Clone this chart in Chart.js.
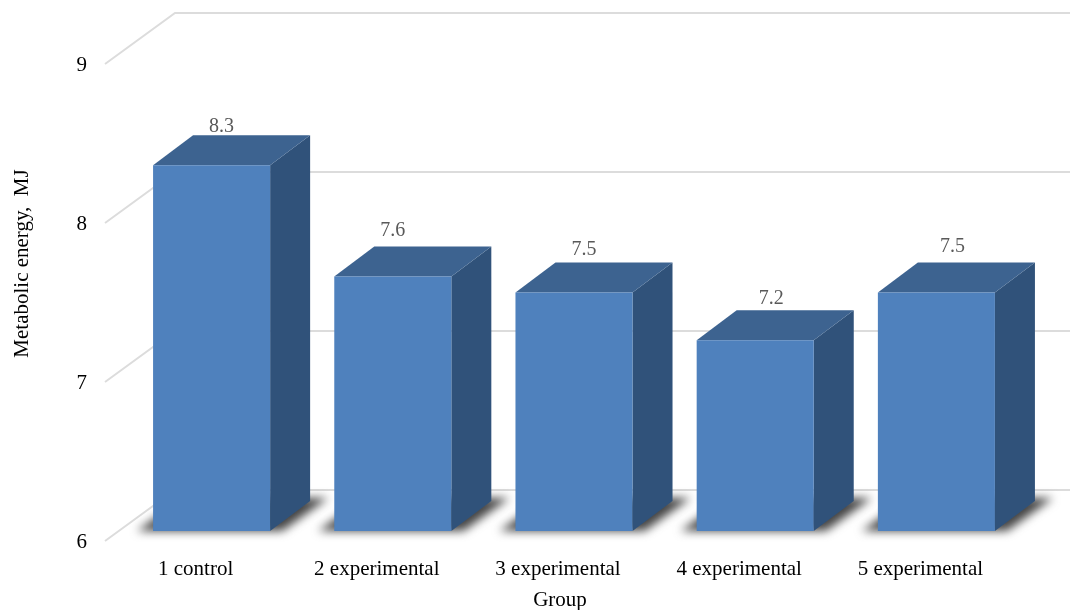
<!DOCTYPE html>
<html>
<head>
<meta charset="utf-8">
<title>Metabolic energy by group</title>
<style>
  html, body { margin: 0; padding: 0; background: #fff; }
  #wrap { width: 1070px; height: 610px; position: relative; overflow: hidden; }
  canvas { display: block; }
</style>
<script src="https://cdn.jsdelivr.net/npm/chart.js@4"></script>
</head>
<body>
<div id="wrap"><canvas id="bar-chartcanvas" width="1070" height="610"></canvas></div>
<script>
var groups = ["1 control", "2 experimental", "3 experimental", "4 experimental", "5 experimental"];
var energy = [8.3, 7.6, 7.5, 7.2, 7.5];
var yTicks = [6, 7, 8, 9];

// nudge of each value label from the middle of its bar, x then y
var labelNudgeX = [10, 0, 10, 16, 16];
var labelNudgeY = [-39, -46, -43, -41, -46];

var FONT = "'Liberation Serif', 'Times New Roman', serif";

// oblique depth of the floor and of one bar
var floorDX = 70, floorDY = -51;
var barDX = 40, barDY = -30;
// front of the bars sits a little behind the front of the floor
var insetX = 16, insetY = 10;

function poly(ctx, pts, fill) {
  ctx.beginPath();
  ctx.moveTo(pts[0][0], pts[0][1]);
  for (var i = 1; i < pts.length; i++) ctx.lineTo(pts[i][0], pts[i][1]);
  ctx.closePath();
  ctx.fillStyle = fill;
  ctx.fill();
}

var walls = {
  id: "walls",
  beforeDatasetsDraw: function(chart) {
    var ctx = chart.ctx;
    var yScale = chart.scales.y;
    var left = chart.chartArea.left - insetX;

    // side wall and back wall grid lines
    ctx.save();
    ctx.strokeStyle = "#dcdcdc";
    ctx.lineWidth = 2;
    yTicks.forEach(function(v) {
      var y = yScale.getPixelForValue(v) + insetY;
      ctx.beginPath();
      ctx.moveTo(left, y);
      ctx.lineTo(left + floorDX, y + floorDY);
      ctx.lineTo(chart.width, y + floorDY);
      ctx.stroke();
    });
    ctx.restore();

    // soft shadow on the floor
    var bars = chart.getDatasetMeta(0).data;
    bars.forEach(function(bar) {
      var x0 = bar.x - bar.width / 2, x1 = bar.x + bar.width / 2, b = bar.base;
      ctx.save();
      ctx.filter = "blur(5px)";
      poly(ctx, [[x0 - 16, b], [x1 + 12, b], [x1 + 58, b - 33], [x0 + 30, b - 33]], "#444444");
      ctx.restore();
    });

    // top and side faces
    bars.forEach(function(bar) {
      var x0 = bar.x - bar.width / 2, x1 = bar.x + bar.width / 2, t = bar.y, b = bar.base;
      poly(ctx, [[x1, t], [x1 + barDX, t + barDY], [x1 + barDX, b + barDY], [x1, b]], "#30527a");
      poly(ctx, [[x0, t], [x0 + barDX, t + barDY], [x1 + barDX, t + barDY], [x1, t]], "#3d6390");
    });
  },
  afterDatasetsDraw: function(chart) {
    var ctx = chart.ctx;
    ctx.save();
    ctx.font = "20px " + FONT;
    ctx.fillStyle = "#595959";
    ctx.textAlign = "center";
    ctx.textBaseline = "middle";
    chart.getDatasetMeta(0).data.forEach(function(bar, i) {
      ctx.fillText(energy[i].toFixed(1), bar.x + labelNudgeX[i], bar.y + labelNudgeY[i]);
    });

    // axis titles sit off the plot centre, so they are placed here
    var area = chart.chartArea;
    ctx.font = "21px " + FONT;
    ctx.fillStyle = "#000";
    ctx.fillText("Group", (area.left + area.right) / 2 - 14, 600);
    ctx.translate(22, (area.top + area.bottom) / 2 - 29);
    ctx.rotate(-Math.PI / 2);
    ctx.fillText("Metabolic energy,  MJ", 0, 0);
    ctx.restore();
  }
};

var ctx = document.getElementById("bar-chartcanvas");

var chart = new Chart(ctx, {
  type: "bar",
  plugins: [walls],
  data: {
    labels: groups,
    datasets: [{
      label: "Metabolic energy",
      data: energy,
      base: 6,
      backgroundColor: "#4f81bd",
      borderWidth: 0,
      categoryPercentage: 1,
      barPercentage: 0.646
    }]
  },
  options: {
    responsive: false,
    animation: false,
    layout: { padding: { top: 54, right: 43, left: 0, bottom: 0 } },
    plugins: {
      legend: { display: false },
      tooltip: { enabled: false }
    },
    scales: {
      x: {
        grid: { display: false },
        border: { display: false },
        afterFit: function(scale) { scale.height = 79; },
        ticks: {
          color: "#000",
          font: { family: FONT, size: 21 },
          labelOffset: -16,
          padding: 18,
          maxRotation: 0,
          autoSkip: false
        }
      },
      y: {
        min: 6,
        max: 9,
        grid: { display: false },
        border: { display: false },
        afterFit: function(scale) { scale.width = 121; },
        afterBuildTicks: function(scale) {
          scale.ticks = yTicks.map(function(v) { return { value: v }; });
        },
        ticks: {
          color: "#000",
          font: { family: FONT, size: 21 },
          labelOffset: 11,
          padding: 26
        }
      }
    }
  }
});
</script>
</body>
</html>
